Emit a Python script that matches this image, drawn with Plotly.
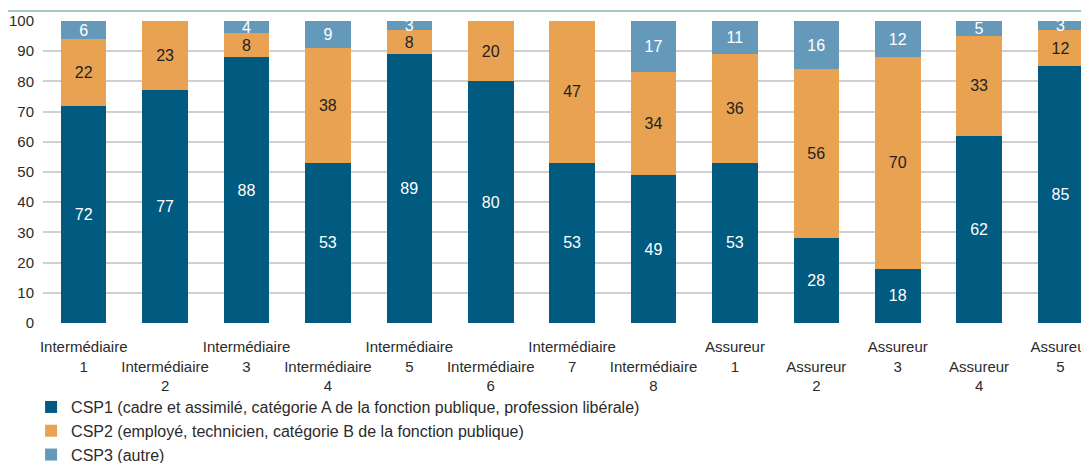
import plotly.graph_objects as go

categories = ["Intermédiaire 1", "Intermédiaire 2", "Intermédiaire 3", "Intermédiaire 4",
              "Intermédiaire 5", "Intermédiaire 6", "Intermédiaire 7", "Intermédiaire 8",
              "Assureur 1", "Assureur 2", "Assureur 3", "Assureur 4", "Assureur 5"]
csp1 = [72, 77, 88, 53, 89, 80, 53, 49, 53, 28, 18, 62, 85]
csp2 = [22, 23, 8, 38, 8, 20, 47, 34, 36, 56, 70, 33, 12]
csp3 = [6, None, 4, 9, 3, None, None, 17, 11, 16, 12, 5, 3]
y_ticks = [0, 10, 20, 30, 40, 50, 60, 70, 80, 90, 100]

names = ["CSP1 (cadre et assimilé, catégorie A de la fonction publique, profession libérale)",
         "CSP2 (employé, technicien, catégorie B de la fonction publique)",
         "CSP3 (autre)"]
colors = ["#015a80", "#e8a252", "#6599b9"]
text_colors = ["white", "#222222", "white"]

FONT = "Liberation Sans, Arial, sans-serif"

# staggered two-row category labels
tick_text = []
for i, c in enumerate(categories):
    word, num = c.rsplit(" ", 1)
    lab = word + "<br>" + num
    if i % 2 == 1:
        lab = " <br>" + lab
    tick_text.append(lab)

fig = go.Figure()
for vals, name, col, tcol in zip([csp1, csp2, csp3], names, colors, text_colors):
    fig.add_trace(go.Bar(
        x=list(range(len(categories))), y=vals, name=name,
        marker=dict(color=col, line=dict(width=0)),
        text=[str(v) if v else "" for v in vals],
        textposition="inside", insidetextanchor="middle", textangle=0,
        constraintext="none",
        textfont=dict(color=tcol, size=16, family=FONT),
    ))

# thin rule above the chart
fig.add_shape(type="line", xref="paper", yref="paper", x0=-0.1, x1=1.1, y0=1.033, y1=1.033,
              line=dict(color="#a3c9b7", width=2))

# page body has an 8px margin, so offsets are compensated here
fig.update_layout(
    barmode="stack", bargap=0.44,
    width=1089, height=463,
    margin=dict(l=35, r=8, t=12.5, b=147.7, autoexpand=False),
    paper_bgcolor="white", plot_bgcolor="white",
    font=dict(family=FONT, size=15, color="#2b2b2b"),
    showlegend=True,
    legend=dict(orientation="v", x=-0.0114, xanchor="left", y=-0.222, yanchor="top",
                traceorder="normal", font=dict(size=16), tracegroupgap=0,
                bgcolor="rgba(0,0,0,0)"),
    xaxis=dict(range=[-0.5, 12.35], tickmode="array", tickvals=list(range(len(categories))),
               ticktext=tick_text, showgrid=False, ticks="outside", ticklen=10,
               tickcolor="rgba(0,0,0,0)", tickangle=0, zeroline=False, showline=False,
               automargin=False, ticklabeloverflow="allow"),
    yaxis=dict(range=[0, 100], tickvals=y_ticks, showgrid=True, gridcolor="#d0d0d0",
               gridwidth=1.5, zeroline=False, showline=False, ticks="outside", ticklen=5,
               tickcolor="rgba(0,0,0,0)", automargin=False),
)

fig.write_html("out.html")
